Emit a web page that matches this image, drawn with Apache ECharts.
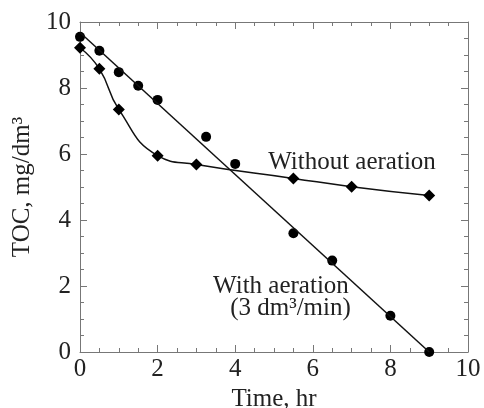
<!DOCTYPE html>
<html>
<head>
<meta charset="utf-8">
<script src="https://cdn.jsdelivr.net/npm/echarts@6/dist/echarts.min.js"></script>
<style>
  html, body { margin: 0; background: #fff; }
  #chart { width: 484px; height: 408px; }
</style>
</head>
<body>
<div id="chart"></div>
<script>
// with aeration (circles) and its straight fit
var time_with = [0, 0.5, 1, 1.5, 2, 3.25, 4, 5.5, 6.5, 8, 9];
var toc_with = [9.55, 9.13, 8.48, 8.07, 7.64, 6.52, 5.7, 3.6, 2.77, 1.1, 0];
var fit_x = [0, 9];
var fit_y = [9.68, 0];

// without aeration (diamonds), smooth curve through them
var time_without = [0, 0.5, 1, 2, 3, 5.5, 7, 9];
var toc_without = [9.22, 8.58, 7.35, 5.95, 5.68, 5.26, 5.01, 4.74];

var font = "'Liberation Serif', 'Times New Roman', serif";
var fsize = 25;
var frame = '#777';

function pairs(xs, ys) {
  return xs.map(function (x, i) { return [x, ys[i]]; });
}

function box_axis(pos, show_labels, name, gap) {
  return {
    type: 'value', position: pos, min: 0, max: 10, interval: 2,
    name: name, nameLocation: 'middle', nameGap: gap,
    nameTextStyle: { fontFamily: font, fontSize: fsize, color: '#222' },
    axisLine: { show: true, onZero: false, lineStyle: { color: frame, width: 1 } },
    axisTick: { show: true, inside: true, length: 7, lineStyle: { color: frame } },
    minorTick: { show: true, splitNumber: 4, length: 4, lineStyle: { color: frame } },
    axisLabel: { show: show_labels, fontFamily: font, fontSize: fsize, color: '#222',
                 margin: pos == 'left' ? 9 : 5 },
    splitLine: { show: false }
  };
}

var chart = echarts.init(document.getElementById('chart'));

chart.setOption({
  animation: false,
  grid: { left: 80, right: 16, top: 22, bottom: 56, outerBoundsMode: 'none' },
  xAxis: [
    box_axis('bottom', true, 'Time, hr', 31),
    box_axis('top', false, '', 0)
  ],
  yAxis: [
    box_axis('left', true, 'TOC, mg/dm³', 42),
    box_axis('right', false, '', 0)
  ],
  series: [
    {
      type: 'line', data: pairs(fit_x, fit_y), symbol: 'none',
      lineStyle: { color: '#111', width: 1.5 }
    },
    {
      type: 'scatter', data: pairs(time_with, toc_with), symbol: 'circle', symbolSize: 10,
      itemStyle: { color: '#000', opacity: 1 }
    },
    {
      type: 'line', data: pairs(time_without, toc_without), smooth: 0.5,
      symbol: 'diamond', symbolSize: 12, showSymbol: true,
      lineStyle: { color: '#111', width: 1.5 },
      itemStyle: { color: '#000' }
    }
  ]
});

function place(text, x, y, align) {
  var p = chart.convertToPixel({ gridIndex: 0 }, [x, y]);
  return {
    type: 'text', x: p[0], y: p[1],
    style: { text: text, font: fsize + 'px ' + font, fill: '#222', align: align, verticalAlign: 'middle' }
  };
}

chart.setOption({
  graphic: [
    place('Without aeration', 7.01, 5.73, 'center'),
    place('With aeration', 3.43, 2.0, 'left'),
    place('(3 dm³/min)', 3.87, 1.33, 'left')
  ]
});
</script>
</body>
</html>
